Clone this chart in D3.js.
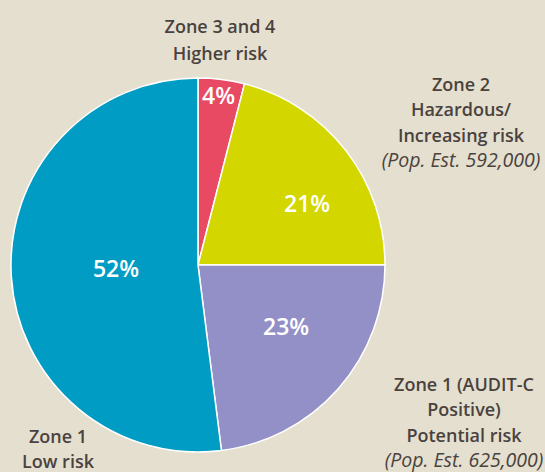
<!DOCTYPE html>
<html><head><meta charset="utf-8">
<script src="https://cdn.jsdelivr.net/npm/d3@7"></script>
<style>
html,body{margin:0;padding:0;background:#e5dfcf;}
svg{display:block;}
</style></head>
<body>
<script>
const categories = ["Zone 3 and 4", "Zone 2", "Zone 1 (AUDIT-C Positive)", "Zone 1"];
const values = [4, 21, 23, 52];
const pctLabels = ["4%", "21%", "23%", "52%"];
const colors = ["#e84a64", "#d4d600", "#9390c7", "#009cc4"];
const labelLines = [
  [["Zone 3 and 4", false], ["Higher risk", false]],
  [["Zone 2", false], ["Hazardous/", false], ["Increasing risk", false], ["(Pop. Est. 592,000)", true]],
  [["Zone 1 (AUDIT-C", false], ["Positive)", false], ["Potential risk", false], ["(Pop. Est. 625,000)", true]],
  [["Zone 1", false], ["Low risk", false]]
];

const W = 545, H = 472;
const cx = 198, cy = 265, R = 187;
const svg = d3.select("body").append("svg").attr("width", W).attr("height", H);
svg.append("rect").attr("width", W).attr("height", H).attr("fill", "#e5dfcf");

const pie = d3.pie().sort(null).value(d => d)(values);
const arc = d3.arc().innerRadius(0).outerRadius(R);
const g = svg.append("g").attr("transform", `translate(${cx},${cy})`);
g.selectAll("path").data(pie).join("path")
  .attr("d", arc).attr("fill", (d, i) => colors[i])
  .attr("stroke", "#ffffff").attr("stroke-width", 1.5).attr("stroke-linejoin", "round");

const font = "'Open Sans', 'Noto Sans', sans-serif";
// percentage label placement: radius and angular nudge (degrees) from slice mid-angle
const pctR = [170.7, 125.2, 107.4, 82.1];
const pctNudge = [-0.3, 8.4, -6.5, 1.2];
g.selectAll("text.pct").data(pie).join("text").attr("class", "pct")
  .attr("transform", (d, i) => {
    const a = (d.startAngle + d.endAngle) / 2 + pctNudge[i] * Math.PI / 180;
    const p = d3.pointRadial(a, pctR[i]);
    return `translate(${p[0]},${p[1]})`;
  })
  .attr("text-anchor", "middle").attr("dy", "0.36em")
  .attr("fill", "#ffffff").attr("font-family", font).attr("font-weight", 600)
  .attr("font-size", 23).text((d, i) => pctLabels[i]);

// category labels
const labelPos = [[220, 33], [461, 91], [464, 391], [58, 443]];
const lineH = [27, 25.3, 25.3, 25];
labelLines.forEach((lines, i) => {
  const t = svg.append("text").attr("text-anchor", "middle")
    .attr("font-family", font).attr("fill", "#4a423e");
  lines.forEach(([s, it], j) => {
    t.append("tspan").attr("x", labelPos[i][0]).attr("y", labelPos[i][1] + j * lineH[i])
      .attr("font-weight", it ? 400 : 600).attr("font-style", it ? "italic" : "normal")
      .attr("font-size", it ? 19.5 : 18)
      .text(s);
  });
});
</script>
</body></html>
